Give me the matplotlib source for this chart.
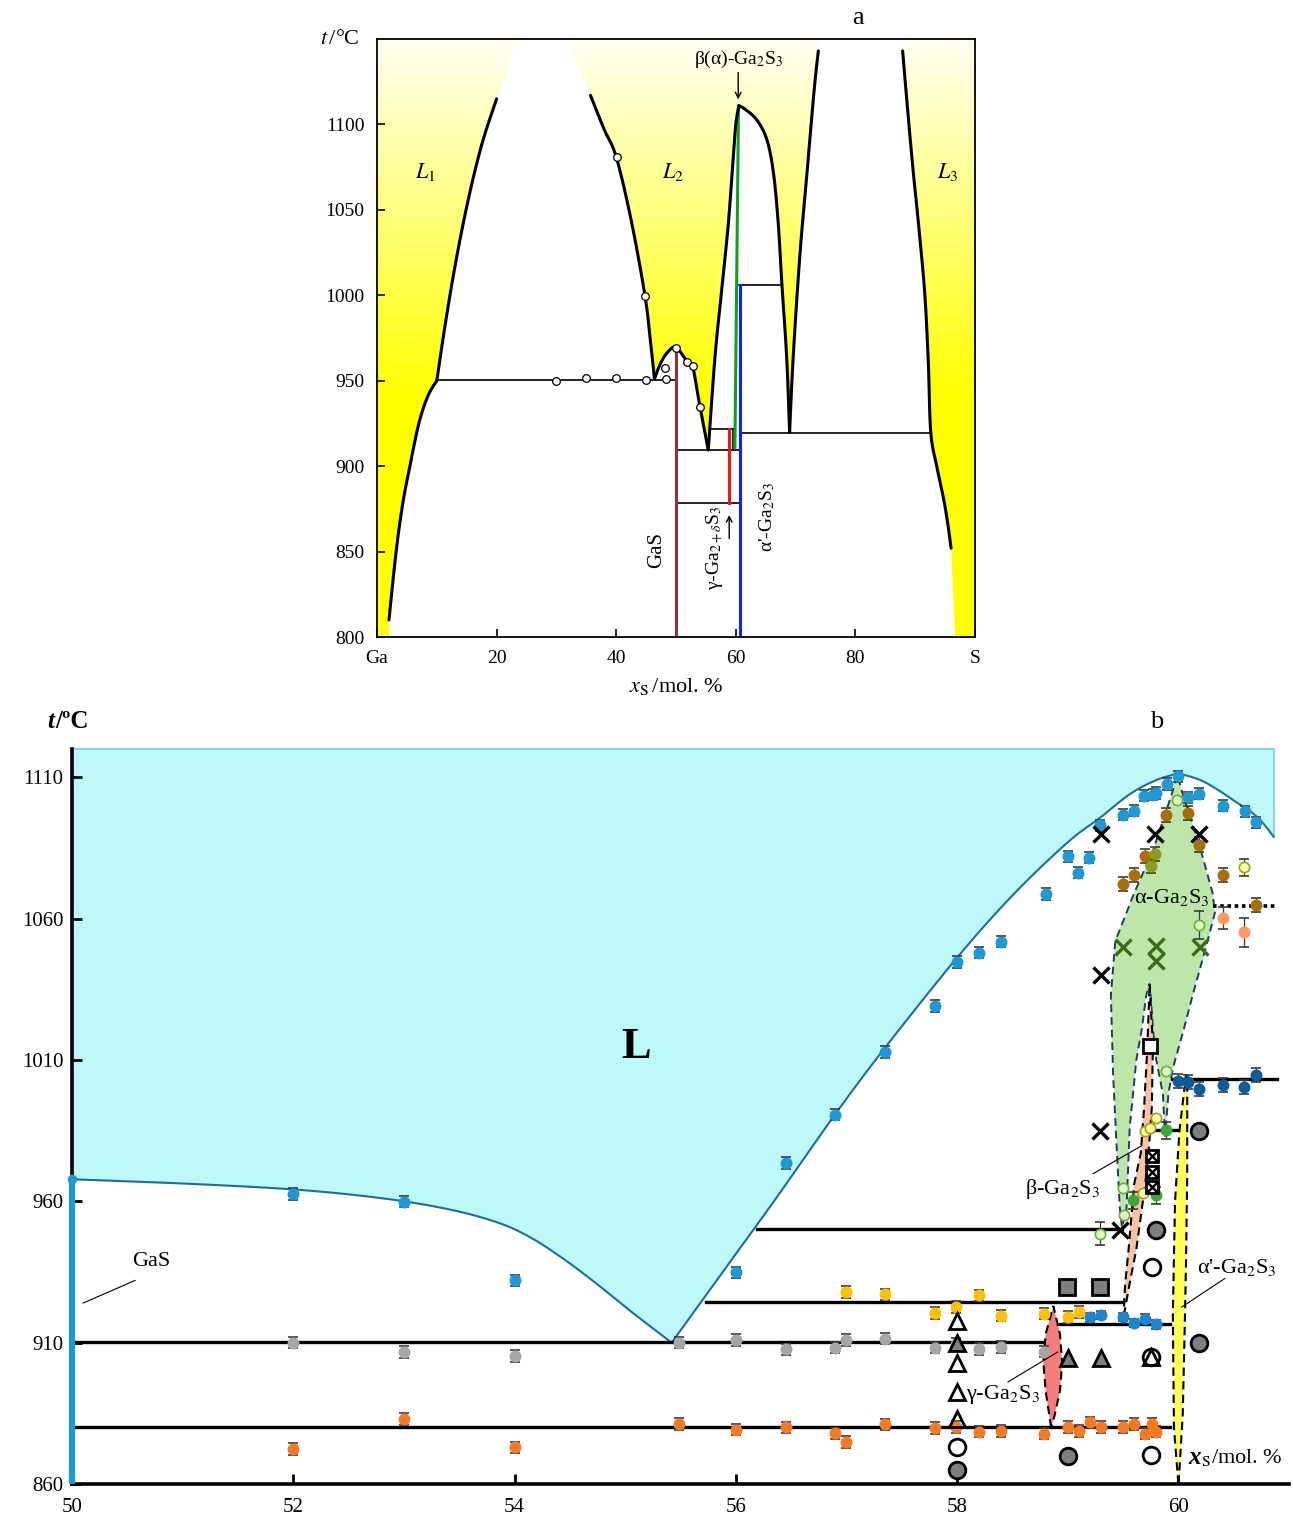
import numpy as np
import matplotlib.pyplot as plt
from matplotlib.patches import Polygon

plt.rcParams['font.family'] = ['Liberation Serif', 'DejaVu Serif']
plt.rcParams['mathtext.fontset'] = 'stix'

W, H = 1293, 1519

# ---------------- panel a : Ga-S phase diagram ----------------
ga_liq_x = [2.0, 3.2, 4.3, 5.5, 7.0, 8.5, 10.0]
ga_liq_t = [810, 850, 878, 900, 925, 941, 950]
gap1_left_x = [10.0, 11.5, 13.2, 15.2, 17.5, 20.0]
gap1_left_t = [950, 985, 1020, 1055, 1088, 1115]
gap1_right_x = [35.7, 38.0, 40.0, 42.5, 44.8, 45.7, 46.4]
gap1_right_t = [1117, 1097, 1081, 1044, 1000, 974, 951]
gas_liq_x = [46.4, 47.4, 48.6, 50.0, 51.9, 52.8, 54.0, 55.4]
gas_liq_t = [951, 960, 966.7, 969.5, 961, 958, 935, 909.5]
g2s3_left_x = [55.4, 56.52, 57.64, 58.75, 59.58, 60.0, 60.5]
g2s3_left_t = [909.5, 964, 1003, 1042, 1081, 1100, 1111]
g2s3_right_x = [60.5, 61.5, 63.5, 65.2, 66.3, 67.1, 67.7, 68.5, 69.0]
g2s3_right_t = [1111, 1109, 1102.7, 1091, 1071.5, 1042, 1007, 964, 920]
gap2_left_x = [69.0, 69.6, 70.7, 71.9, 73.1, 73.8]
gap2_left_t = [920, 964, 1022.7, 1071.5, 1120, 1143]
gap2_right_x = [87.9, 88.7, 89.6, 90.6, 91.6, 92.2, 92.6, 93.6, 94.8, 95.5, 96.0]
gap2_right_t = [1143, 1110, 1075, 1040, 1001, 960, 920, 900, 880, 865, 852]

circ_a_x = [29.9, 34.9, 40.0, 45.0, 48.2, 48.3, 50.0, 51.9, 52.8, 54.0, 40.1, 44.8]
circ_a_t = [950, 951.6, 951.8, 950.5, 957.3, 950.9, 969, 961.2, 958.7, 934.5, 1081, 999.6]

# horizontal tie lines (t, x from, x to)
tie_a_t = [950.5, 922, 909.5, 878.3, 919.3, 1006]
tie_a_x0 = [10.0, 55.9, 50.0, 50.0, 60.7, 60.6]
tie_a_x1 = [50.0, 59.85, 60.7, 60.7, 92.6, 67.8]

# ---------------- panel b : 50-61 mol.% S ----------------
liq_left_x = [50.0, 51.0, 52.0, 52.78, 53.39, 53.84, 54.14, 54.44, 54.74, 55.04, 55.42]
liq_left_t = [967.8, 966.3, 964.2, 961.2, 957.3, 952.6, 947.3, 939.7, 930.9, 921.4, 910.0]
liq_right_x = [55.42, 55.9, 56.35, 56.9, 57.35, 58.0, 58.51, 59.0, 59.29, 59.56, 59.8, 60.0]
liq_right_t = [910, 936, 960.3, 990.9, 1014.4, 1046.2, 1068.6, 1087, 1095.6, 1104, 1109, 1111.4]
liq_cap_x = [60.0, 60.2, 60.38, 60.53, 60.65, 60.76, 60.86]
liq_cap_t = [1111.4, 1109, 1105, 1101, 1098, 1094, 1089]

alpha_x = [59.49, 59.47, 59.44, 59.41, 59.39, 59.43, 59.6, 59.77, 59.94, 59.99,
           60.04, 60.19, 60.31, 60.33, 60.25, 60.13, 60.05, 59.95, 59.91, 59.88,
           59.86, 59.8, 59.77, 59.75, 59.74, 59.71, 59.67, 59.62, 59.59, 59.56, 59.53]
alpha_t = [951, 958, 981, 1005, 1033, 1052, 1069, 1084, 1104, 1111,
           1104, 1086, 1069, 1062, 1050, 1033, 1021, 1007, 998, 983,
           998, 1010, 1021, 1033, 1037, 1033, 1021, 1010, 998, 986, 956]
beta_x = [59.5, 59.52, 59.55, 59.6, 59.66, 59.69, 59.72, 59.74,
          59.77, 59.76, 59.73, 59.70, 59.62, 59.56]
beta_t = [918, 931, 943, 966, 977, 993, 1015, 1037,
          1015, 993, 977, 966, 943, 931]
alphap_x = [60.0, 59.96, 59.95, 59.97, 60.01, 60.07, 60.08, 60.08, 60.07, 60.06, 60.04, 60.01]
alphap_t = [860, 880, 920, 960, 985, 1005, 1000, 970, 940, 920, 885, 865]
gamma_x = [58.85, 58.8, 58.78, 58.8, 58.87, 58.93, 58.95, 58.93, 58.88]
gamma_t = [880, 893, 903, 913, 923, 913, 903, 893, 884]

tie_b_t = [880, 910.1, 924.3, 916.7, 950.3, 985.2, 1003.4]
tie_b_x0 = [50, 50, 55.73, 58.93, 56.19, 59.77, 59.94]
tie_b_x1 = [59.92, 58.78, 59.5, 59.92, 59.49, 60.0, 60.89]

blue_x = [52, 53, 54, 56, 56.45, 56.9, 57.35, 57.8, 58.0, 58.2, 58.4, 58.8, 59.0, 59.09,
          59.19, 59.29, 59.5, 59.6, 59.69, 59.77, 59.8, 59.9, 60.0, 60.09, 60.19, 60.4, 60.6, 60.7]
blue_t = [962.6, 959.9, 932, 934.9, 973.5, 990.6, 1012.8, 1029.1, 1044.6, 1048, 1051.9, 1068.7,
          1082, 1076.2, 1081.5, 1093, 1096.8, 1098.2, 1103.5, 1103.8, 1104.4, 1107.6, 1110.3,
          1102.9, 1104.2, 1100, 1098, 1094.1]
blue2_x = [59.2, 59.3, 59.5, 59.6, 59.7, 59.8]
blue2_t = [918.9, 919.7, 919.1, 917, 918.5, 916.5]
dblue_x = [60.0, 60.09, 60.19, 60.4, 60.59, 60.7]
dblue_t = [1002.7, 1002.1, 999.8, 1001, 1000.4, 1004.8]
gray_x = [52, 53, 54, 55.49, 56, 56.45, 56.9, 57.0, 57.35, 57.8, 57.99, 58.2, 58.4, 58.79]
gray_t = [910, 906.7, 905.3, 910, 910.9, 907.6, 908.2, 910.9, 911.4, 908.2, 909.7, 907.8, 908.5, 906.8]
orange_x = [52, 53, 54, 55.49, 56, 56.45, 56.9, 57.0, 57.35, 57.8, 57.99, 58.2, 58.4, 58.79,
            59.0, 59.1, 59.2, 59.3, 59.5, 59.6, 59.7, 59.76, 59.8]
orange_t = [872.4, 883, 873, 881.2, 879.2, 880, 877.9, 874.9, 881.1, 879.8, 880.2, 878.5, 878.8,
            877.8, 880.2, 878.7, 881.8, 880.2, 880.2, 881.2, 877.8, 881.4, 878.5]
gold_x = [57.0, 57.35, 57.8, 57.99, 58.2, 58.4, 58.79, 59.0, 59.1]
gold_t = [927.9, 927.1, 920.5, 922.6, 926.7, 919.5, 920.3, 919.1, 920.8]
brown_x = [59.5, 59.6, 59.7, 59.89, 60.09, 60.19, 60.4, 60.7]
brown_t = [1072.3, 1075.3, 1082.1, 1096.8, 1097.4, 1086.2, 1075.3, 1064.8]
olive_x = [59.75, 59.79]
olive_t = [1078.6, 1082.8]
salmon_x = [60.4, 60.59]
salmon_t = [1060.2, 1055.1]
salmon_err = [4, 5]
pale_x = [60.59, 59.7, 59.74, 59.8, 59.68]
pale_t = [1078.2, 985, 986, 989.3, 963]
pale_err = [3, 0, 0, 0, 0]
lgreen_x = [59.99, 60.19, 59.89, 59.5, 59.51, 59.29]
lgreen_t = [1101.9, 1057.7, 1006.2, 964.8, 955, 948.6]
lgreen_err = [0, 5, 0, 0, 0, 4]
green_x = [59.89, 59.59, 59.8]
green_t = [985.2, 960.3, 962.1]

xk_x = [59.3, 59.79, 60.19, 59.3, 59.29, 59.47]
xk_t = [1090, 1090, 1090, 1040, 984.8, 950]
xg_x = [59.5, 59.8, 59.8, 60.2]
xg_t = [1049.8, 1050.3, 1045, 1049.8]
sq_open_x, sq_open_t = [59.74], [1015]
sqx_x = [59.76, 59.76, 59.76]
sqx_t = [976, 970.5, 965]
sq_gray_x = [58.99, 59.29]
sq_gray_t = [929.7, 929.7]
circ_gray_x = [60.19, 59.8, 60.19, 59.0, 58.0]
circ_gray_t = [985, 950, 910, 869.9, 865]
circ_open_x = [59.76, 59.75, 59.75, 58.0]
circ_open_t = [936.8, 905, 870.2, 873]
tri_open_x = [58.0, 58.0, 58.0, 58.0, 59.75]
tri_open_t = [917.6, 902.9, 892.6, 882.9, 905]
tri_gray_x = [58.0, 59.0, 59.3]
tri_gray_t = [910, 904.4, 904.4]


def smooth(xs, ts, n=10):
    # Catmull-Rom drawing of a boundary through the read points
    p = np.column_stack([xs, ts]).astype(float)
    p = np.vstack([p[0], p, p[-1]])
    out = []
    for i in range(1, len(p) - 2):
        p0, p1, p2, p3 = p[i - 1], p[i], p[i + 1], p[i + 2]
        for s in np.linspace(0, 1, n, endpoint=False):
            out.append(0.5 * (2 * p1 + (-p0 + p2) * s + (2 * p0 - 5 * p1 + 4 * p2 - p3) * s ** 2
                              + (-p0 + 3 * p1 - 3 * p2 + p3) * s ** 3))
    out.append(p[-2])
    out = np.array(out)
    return list(out[:, 0]), list(out[:, 1])


def pts(c):
    return list(zip(c[0], c[1]))


fig = plt.figure(figsize=(W / 100, H / 100), dpi=100)

# ================= panel a =================
ax_a = fig.add_axes([377 / W, 1 - 637 / H, 598 / W, 598 / H])
ys = np.linspace(800, 1150, 400)
amt = np.clip((1160 - ys) / 220, 0, 1)
img = np.ones((400, 1, 3))
img[:, 0, 2] = 1 - amt
ax_a.imshow(img, extent=[0, 100, 800, 1150], origin='lower', aspect='auto', zorder=0)

curves_a = [smooth(ga_liq_x, ga_liq_t), smooth(gap1_left_x, gap1_left_t),
            smooth(gap1_right_x, gap1_right_t), smooth(gas_liq_x, gas_liq_t),
            smooth(g2s3_left_x, g2s3_left_t), smooth(g2s3_right_x, g2s3_right_t),
            smooth(gap2_left_x, gap2_left_t), smooth(gap2_right_x, gap2_right_t)]

white = ([(2.0, 800)] + pts(curves_a[0]) + pts(curves_a[1])[1:]
         + [(23.5, 1150), (31.8, 1150)] + pts(curves_a[2])
         + pts(curves_a[3])[1:] + pts(curves_a[4])[1:]
         + pts(curves_a[5])[1:] + pts(curves_a[6])[1:]
         + [(74.0, 1150), (87.7, 1150)] + pts(curves_a[7]) + [(96.7, 800)])
ax_a.add_patch(Polygon(white, closed=True, facecolor='white', edgecolor='none', zorder=1))

for cx, ct in curves_a:
    ax_a.plot(cx, ct, color='black', lw=2.2, zorder=4, solid_capstyle='round')

for t, x0, x1 in zip(tie_a_t, tie_a_x0, tie_a_x1):
    ax_a.plot([x0, x1], [t, t], color='black', lw=1.2, zorder=3)
ax_a.plot([59.5, 59.5], [909.5, 922], color='black', lw=1.2, zorder=3)

ax_a.plot([50, 50], [800, 969], color='#8b3a3a', lw=2.2, zorder=3)
ax_a.plot([58.9, 58.9], [878.3, 922], color='#ff1010', lw=2.2, zorder=3)
ax_a.plot([59.85, 60.45], [911, 1109], color='#10a020', lw=2.2, zorder=3)
ax_a.plot([60.7, 60.7], [800, 1006], color='#1020ff', lw=2.2, zorder=3)

ax_a.plot(circ_a_x, circ_a_t, 'o', ms=5.5, mfc='white', mec='black', mew=0.9, zorder=6)

ax_a.text(8.0, 1072, '$L_1$', fontsize=16, ha='center', va='center', zorder=7)
ax_a.text(49.5, 1072, '$L_2$', fontsize=16, ha='center', va='center', zorder=7)
ax_a.text(95.5, 1072, '$L_3$', fontsize=16, ha='center', va='center', zorder=7)
ax_a.text(60.4, 1138, 'β(α)-Ga$_2$S$_3$', fontsize=14, ha='center', va='center', zorder=7)
ax_a.annotate('', xy=(60.4, 1113), xytext=(60.4, 1132),
              arrowprops=dict(arrowstyle='->', lw=1, color='black'), zorder=7)
ax_a.annotate('', xy=(58.9, 873), xytext=(58.9, 856),
              arrowprops=dict(arrowstyle='->', lw=1, color='black'), zorder=7)
ax_a.text(46.8, 851, 'GaS', fontsize=15, rotation=90, ha='center', va='center', zorder=7)
ax_a.text(56.4, 852, 'γ-Ga$_{2+δ}$S$_3$', fontsize=14, rotation=90, ha='center', va='center', zorder=7)
ax_a.text(65.2, 870, "α'-Ga$_2$S$_3$", fontsize=14, rotation=90, ha='center', va='center', zorder=7)

ax_a.set_xlim(0, 100)
ax_a.set_ylim(800, 1150)
ax_a.set_xticks([0, 20, 40, 60, 80, 100])
ax_a.set_xticklabels(['Ga', '20', '40', '60', '80', 'S'])
ax_a.set_yticks([800, 850, 900, 950, 1000, 1050, 1100])
ax_a.tick_params(direction='in', length=6, width=1.2, labelsize=14, pad=9)
for sp in ax_a.spines.values():
    sp.set_linewidth(1.3)
    sp.set_zorder(8)

fig.text(340 / W, 1 - 40 / H, '$t\\,$/°C', fontsize=16, ha='center', va='center')
fig.text(676 / W, 1 - 687 / H, '$x_{\\rm S}\\,$/mol. %', fontsize=16, ha='center', va='center')
fig.text(858 / W, 1 - 18 / H, 'a', fontsize=19, ha='center', va='center')

# ================= panel b =================
ax_b = fig.add_axes([72 / W, 1 - 1484 / H, 1217 / W, 735 / H])

lx, lt = smooth(liq_left_x, liq_left_t)
rx, rt = smooth(liq_right_x, liq_right_t)
cx, ct = smooth(liq_cap_x, liq_cap_t)
cyan = [(50, 1120)] + list(zip(lx, lt)) + list(zip(rx, rt))[1:] + list(zip(cx, ct))[1:] + [(60.86, 1120)]
ax_b.add_patch(Polygon(cyan, closed=True, facecolor='#bff8f9', edgecolor='none', zorder=1))
ax_b.plot([50, 60.86, 60.86], [1120, 1120, 1089], color='#80d8ea', lw=1.5, zorder=2, clip_on=False)
ax_b.plot(lx + rx[1:] + cx[1:], lt + rt[1:] + ct[1:], color='#1a6ea0', lw=1.5, zorder=2)

ax_b.add_patch(Polygon(list(zip(alpha_x, alpha_t)), closed=True, facecolor='#bde6a8',
                       edgecolor='#1f3a66', lw=1.4, ls=(0, (4, 2.5)), zorder=2))
ax_b.add_patch(Polygon(list(zip(beta_x, beta_t)), closed=True, facecolor='#f8c3a4',
                       edgecolor='black', lw=1.5, ls=(0, (4, 2.5)), zorder=2))
ax_b.add_patch(Polygon(list(zip(alphap_x, alphap_t)), closed=True, facecolor='#ffff55',
                       edgecolor='black', lw=1.5, ls=(0, (4, 2.5)), zorder=2))
ax_b.add_patch(Polygon(list(zip(gamma_x, gamma_t)), closed=True, facecolor='#f47c7c',
                       edgecolor='black', lw=1.5, ls=(0, (4, 2.5)), zorder=2))

for t, x0, x1 in zip(tie_b_t, tie_b_x0, tie_b_x1):
    ax_b.plot([x0, x1], [t, t], color='black', lw=2.4, zorder=3)
ax_b.plot([60.31, 60.88], [1064.5, 1064.5], color='black', lw=2.6, ls=(0, (1, 1)), zorder=3)

ax_b.plot([50, 50], [860, 968], color='#1b9ad6', lw=4.5, zorder=6, clip_on=False, solid_capstyle='butt')
ax_b.plot([50], [968], 'o', ms=6, color='#1b9ad6', zorder=6, clip_on=False)


def dots(x, t, err, fc, ec=None):
    ax_b.errorbar(x, t, yerr=err, fmt='o', ms=7.4, mfc=fc, mec=ec or fc, mew=1.2,
                  ecolor='#3a3a3a', elinewidth=0.9, capsize=3.5, capthick=0.9, zorder=5)


dots(blue_x, blue_t, 2, '#1b9ad6')
dots(blue2_x, blue2_t, 1.5, '#1b86cf')
dots(dblue_x, dblue_t, 2.5, '#0b5c99')
dots(gray_x, gray_t, 2, '#a6a6a6')
dots(orange_x, orange_t, 2, '#f57a21')
dots(gold_x, gold_t, 2, '#ffc000')
dots(brown_x, brown_t, 2.5, '#a87000')
dots(olive_x, olive_t, 2.5, '#8c9c1c')
dots(salmon_x, salmon_t, salmon_err, '#ff9960')
dots(pale_x, pale_t, pale_err, '#ffffa0', '#a0a020')
dots(lgreen_x, lgreen_t, lgreen_err, '#e4f7c8', '#5cb82e')
dots(green_x, green_t, 3, '#3aa935')

ax_b.plot(xk_x, xk_t, 'x', ms=11, mew=2.4, color='black', zorder=6)
ax_b.plot(xg_x, xg_t, 'x', ms=11, mew=2.4, color='#3a6a1c', zorder=6)
ax_b.plot(sq_open_x, sq_open_t, 's', ms=10, mfc='white', mec='black', mew=2, zorder=6)
ax_b.plot(sqx_x, sqx_t, 's', ms=9, mfc='white', mec='black', mew=2, zorder=6)
ax_b.plot(sqx_x, sqx_t, 'x', ms=6.5, mew=1.8, color='black', zorder=7)
ax_b.plot(sq_gray_x, sq_gray_t, 's', ms=11, mfc='#7f7f7f', mec='black', mew=2, zorder=6)
ax_b.plot(circ_gray_x, circ_gray_t, 'o', ms=12, mfc='#7f7f7f', mec='black', mew=2, zorder=6)
ax_b.plot(circ_open_x, circ_open_t, 'o', ms=12, mfc='white', mec='black', mew=2, zorder=6)
ax_b.plot(tri_open_x, tri_open_t, '^', ms=12, mfc='none', mec='black', mew=2, zorder=7)
ax_b.plot(tri_gray_x, tri_gray_t, '^', ms=12, mfc='#7f7f7f', mec='black', mew=2, zorder=7)

# labels and leader lines
ax_b.text(55.1, 1014.6, 'L', fontsize=32, fontweight='bold', ha='center', va='center', zorder=8)
ax_b.text(59.94, 1067.3, 'α-Ga$_2$S$_3$', fontsize=16, ha='center', va='center', zorder=8)
ax_b.text(58.95, 964.5, 'β-Ga$_2$S$_3$', fontsize=16, ha='center', va='center', zorder=8)
ax_b.text(60.53, 936.6, "α'-Ga$_2$S$_3$", fontsize=16, ha='center', va='center', zorder=8)
ax_b.text(58.08, 891.8, 'γ-Ga$_2$S$_3$', fontsize=16, ha='left', va='center', zorder=8)
ax_b.text(50.72, 938.7, 'GaS', fontsize=16, ha='center', va='center', zorder=8)
for (x0, t0), (x1, t1) in [((50.1, 924), (50.57, 932)), ((59.23, 969.8), (59.67, 979.7)),
                           ((60.42, 932.7), (60.03, 922.6)), ((58.46, 896.1), (58.91, 906.7))]:
    ax_b.plot([x0, x1], [t0, t1], color='black', lw=0.8, zorder=8)

ax_b.set_xlim(50, 61)
ax_b.set_ylim(860, 1120)
ax_b.set_xticks([50, 52, 54, 56, 58, 60])
ax_b.set_yticks([860, 910, 960, 1010, 1060, 1110])
ax_b.spines['top'].set_visible(False)
ax_b.spines['right'].set_visible(False)
for s in ['left', 'bottom']:
    ax_b.spines[s].set_linewidth(2.6)
    ax_b.spines[s].set_zorder(5)
ax_b.tick_params(direction='in', length=7, width=2, labelsize=15)
ax_b.tick_params(axis='x', pad=10)
ax_b.tick_params(axis='y', pad=6)

fig.text(47 / W, 1 - 722 / H, 't', fontsize=18, fontweight='bold', style='italic', ha='left', va='center')
fig.text(55 / W, 1 - 722 / H, '/ºC', fontsize=18, fontweight='bold', ha='left', va='center')
fig.text(1157 / W, 1 - 722 / H, 'b', fontsize=19, ha='center', va='center')
fig.text(1188 / W, 1 - 1458 / H, 'x', fontsize=18, fontweight='bold', style='italic', ha='left', va='center')
fig.text(1201 / W, 1 - 1458 / H, '$_{\\rm S}$/mol. %', fontsize=16, ha='left', va='center')

fig.savefig('out.png', dpi=100)
